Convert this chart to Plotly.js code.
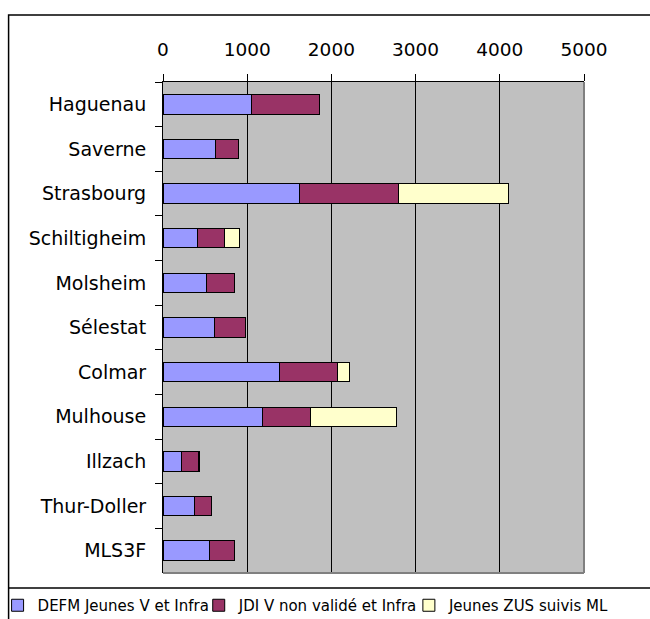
<!DOCTYPE html>
<html>
<head>
<meta charset="utf-8">
<script src="https://cdn.plot.ly/plotly-3.0.1.min.js"></script>
<style>html,body{margin:0;padding:0;background:#fff;}#chart{width:650px;height:619px;}</style>
</head>
<body>
<div id="chart"></div>
<script>
var categories = ["Haguenau", "Saverne", "Strasbourg", "Schiltigheim", "Molsheim", "Sélestat", "Colmar", "Mulhouse", "Illzach", "Thur-Doller", "MLS3F"];
var defm = [1050, 626, 1625, 412, 519, 606, 1387, 1177, 219, 377, 555];
var jdi = [809, 270, 1172, 318, 325, 377, 681, 575, 197, 198, 289];
var zus = [0, 0, 1303, 182, 0, 0, 147, 1017, 15, 0, 0];
var seriesNames = ["DEFM Jeunes V et Infra", "JDI V non validé et Infra", "Jeunes ZUS suivis ML"];
var seriesColors = ["#9999FF", "#993366", "#FFFFCC"];
var xTicks = [0, 1000, 2000, 3000, 4000, 5000];

var legendIds = ["legend", "legend2", "legend3"];
var seriesValues = [defm, jdi, zus];
var data = seriesValues.map(function (vals, i) {
  return {
    type: "bar",
    orientation: "h",
    name: seriesNames[i],
    legend: legendIds[i],
    y: categories,
    x: vals,
    marker: { color: seriesColors[i], line: { color: "#000000", width: 1 } },
    hoverinfo: "x+y+name"
  };
});

function px2x(X) { return (X - 163.3) / 420.7; }
function px2y(Y) { return (573 - Y) / 491; }

function legendAt(X) {
  return {
    orientation: "h",
    x: px2x(X),
    xanchor: "left",
    y: px2y(589),
    yanchor: "top",
    font: { family: "DejaVu Sans, Arial, sans-serif", size: 15 },
    bgcolor: "rgba(0,0,0,0)",
    itemwidth: 30
  };
}

var layout = {
  width: 650,
  height: 619,
  margin: { l: 163, r: 66, t: 82, b: 46, pad: 0, autoexpand: false },
  paper_bgcolor: "#FFFFFF",
  plot_bgcolor: "#C0C0C0",
  barmode: "stack",
  bargap: 0.565,
  font: { family: "DejaVu Sans, Arial, sans-serif", color: "#000000", size: 18 },
  xaxis: {
    side: "top",
    range: [0, 5000],
    tickvals: xTicks,
    ticktext: xTicks.map(String),
    ticks: "outside",
    ticklen: 7,
    tickcolor: "#000000",
    tickwidth: 1,
    ticklabelstandoff: 11,
    showgrid: true,
    gridcolor: "#000000",
    gridwidth: 1,
    showline: true,
    linecolor: "#000000",
    linewidth: 1,
    zeroline: false,
    fixedrange: true,
    tickfont: { family: "DejaVu Sans, Arial, sans-serif", size: 18.5 }
  },
  yaxis: {
    type: "category",
    categoryorder: "array",
    categoryarray: categories,
    autorange: "reversed",
    ticks: "outside",
    tickson: "boundaries",
    ticklen: 7,
    tickcolor: "#000000",
    ticklabelstandoff: 12,
    showgrid: false,
    showline: true,
    linecolor: "#000000",
    linewidth: 1,
    zeroline: false,
    fixedrange: true,
    tickfont: { family: "DejaVu Sans, Arial, sans-serif", size: 19 }
  },
  showlegend: true,
  legend: legendAt(-2),
  legend2: legendAt(199),
  legend3: legendAt(409),
  shapes: [
    { type: "line", xref: "paper", yref: "paper", x0: 1, x1: 1, y0: 0, y1: 1, line: { color: "#808080", width: 2 } },
    { type: "line", xref: "paper", yref: "paper", x0: 0, x1: 1, y0: 0, y1: 0, line: { color: "#808080", width: 2 } },
    { type: "rect", xref: "paper", yref: "paper", x0: px2x(9), x1: px2x(660), y0: px2y(15), y1: px2y(630), line: { color: "#000000", width: 1.5 }, fillcolor: "rgba(0,0,0,0)" },
    { type: "line", xref: "paper", yref: "paper", x0: px2x(9), x1: px2x(660), y0: px2y(588), y1: px2y(588), line: { color: "#000000", width: 1.5 } }
  ]
};

Plotly.newPlot("chart", data, layout, { displayModeBar: false, staticPlot: true });
</script>
</body>
</html>
